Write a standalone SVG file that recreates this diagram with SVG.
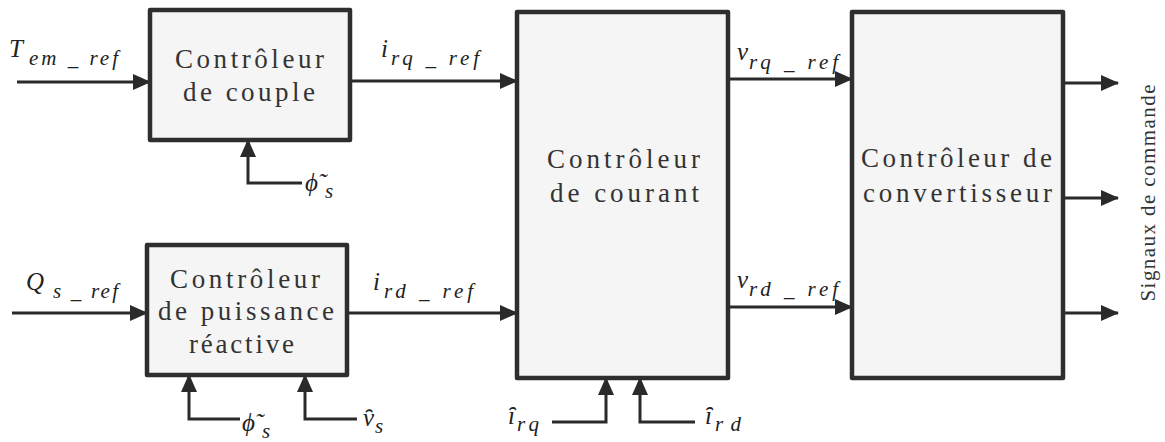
<svg xmlns="http://www.w3.org/2000/svg" width="1165" height="442" viewBox="0 0 1165 442">
<style>
.box{fill:#f5f5f5;stroke:#2e2e2e;stroke-width:4.5;stroke-linejoin:round}
.bt{font-size:27px;fill:#333}
.m{font-style:italic;font-size:25px;fill:#222}
.s{font-size:21px}
.w{fill:none;stroke:#2a2a2a;stroke-width:3}
.a{marker-end:url(#ah)}
.sig{font-size:21px;fill:#333}
</style>
<defs>
<marker id="ah" markerUnits="userSpaceOnUse" markerWidth="18" markerHeight="16" refX="17" refY="8" orient="auto">
<path d="M0,0 L18,8 L0,16 z" fill="#2a2a2a"/>
</marker>
</defs>
<g id="connectors">
<line class="w a" x1="17" y1="82" x2="150" y2="82"/>
<line class="w a" x1="350" y1="81" x2="517" y2="81"/>
<line class="w a" x1="12" y1="313" x2="147" y2="313"/>
<line class="w a" x1="347" y1="313" x2="517" y2="313"/>
<line class="w a" x1="728" y1="79" x2="852" y2="79"/>
<line class="w a" x1="728" y1="307" x2="852" y2="307"/>
<line class="w a" x1="1063" y1="83" x2="1118" y2="83"/>
<line class="w a" x1="1063" y1="198" x2="1118" y2="198"/>
<line class="w a" x1="1063" y1="313" x2="1118" y2="313"/>
<polyline class="w a" points="302,183 248,183 248,140"/>
<polyline class="w a" points="240,419 189,419 189,375"/>
<polyline class="w a" points="357,419 305,419 305,375"/>
<polyline class="w a" points="552,422 606,422 606,378"/>
<polyline class="w a" points="695,422 640,422 640,378"/>
</g>
<g font-family="Liberation Serif, Times New Roman, DejaVu Serif, serif">
<g id="couple">
<rect class="box" x="150" y="10" width="200" height="130"/>
<text class="bt" x="175" y="68" textLength="149" lengthAdjust="spacing">Contrôleur</text>
<text class="bt" x="183" y="101" textLength="132" lengthAdjust="spacing">de couple</text>
</g>
<g id="puissance">
<rect class="box" x="147" y="245" width="200" height="130"/>
<text class="bt" x="170" y="288" textLength="150" lengthAdjust="spacing">Contrôleur</text>
<text class="bt" x="158" y="320" textLength="176" lengthAdjust="spacing">de puissance</text>
<text class="bt" x="189" y="353" textLength="105" lengthAdjust="spacing">réactive</text>
</g>
<g id="courant">
<rect class="box" x="517" y="12" width="211" height="366"/>
<text class="bt" x="547" y="168" textLength="153" lengthAdjust="spacing">Contrôleur</text>
<text class="bt" x="550" y="202" textLength="149" lengthAdjust="spacing">de courant</text>
</g>
<g id="convertisseur">
<rect class="box" x="852" y="12" width="211" height="366"/>
<text class="bt" x="861" y="167" textLength="191" lengthAdjust="spacing">Contrôleur de</text>
<text class="bt" x="863" y="202" textLength="189" lengthAdjust="spacing">convertisseur</text>
</g>
<g id="labels">
<text class="m"><tspan x="9" y="57">T</tspan><tspan class="s" x="29" y="65" textLength="89" lengthAdjust="spacing">em _ ref</tspan></text>
<text class="m"><tspan x="381" y="57">i</tspan><tspan class="s" x="391" y="65" textLength="88" lengthAdjust="spacing">rq _ ref</tspan></text>
<text class="m"><tspan x="26" y="290">Q</tspan><tspan class="s" x="53" y="298" textLength="65" lengthAdjust="spacing">s _ ref</tspan></text>
<text class="m"><tspan x="373" y="290">i</tspan><tspan class="s" x="384" y="298" textLength="89" lengthAdjust="spacing">rd _ ref</tspan></text>
<text class="m"><tspan x="737" y="60">v</tspan><tspan class="s" x="749" y="69" textLength="89" lengthAdjust="spacing">rq _ ref</tspan></text>
<text class="m"><tspan x="737" y="288">v</tspan><tspan class="s" x="749" y="296" textLength="89" lengthAdjust="spacing">rd _ ref</tspan></text>
<text class="m"><tspan x="305" y="191">ϕ̃</tspan><tspan class="s" x="325" y="198">s</tspan></text>
<text class="m"><tspan x="242" y="431">ϕ̃</tspan><tspan class="s" x="262" y="438">s</tspan></text>
<text class="m"><tspan x="363" y="426">v̑</tspan><tspan class="s" x="375" y="433">s</tspan></text>
<text class="m"><tspan x="508" y="424">ȋ</tspan><tspan class="s" x="517" y="431" textLength="22" lengthAdjust="spacing">rq</tspan></text>
<text class="m"><tspan x="705" y="424">ȋ</tspan><tspan class="s" x="715" y="431" textLength="26" lengthAdjust="spacing">rd</tspan></text>
<text class="sig" transform="translate(1155,193) rotate(-90)" text-anchor="middle" textLength="217" lengthAdjust="spacing">Signaux de commande</text>
</g>
</g>
</svg>
